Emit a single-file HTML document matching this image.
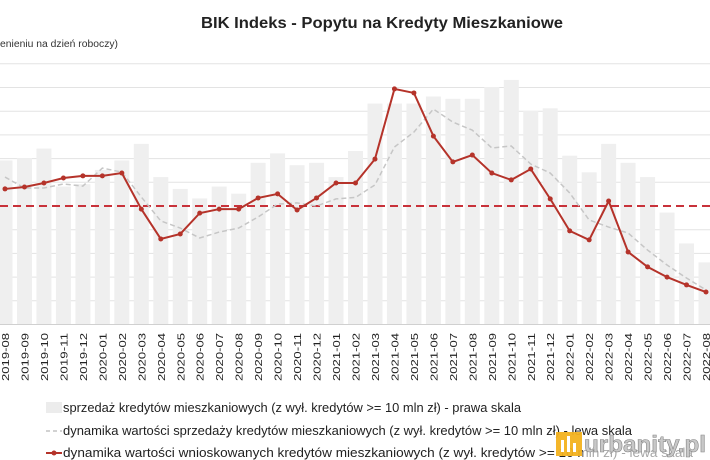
<!DOCTYPE html>
<html><head><meta charset="utf-8"><style>
body{margin:0;background:#fff;}
svg{display:block;font-family:"Liberation Sans",sans-serif;}
</style></head><body>
<svg id="c" width="710" height="460">
<text x="382" y="28" text-anchor="middle" font-size="16" font-weight="bold" fill="#222" textLength="362" lengthAdjust="spacingAndGlyphs">BIK Indeks - Popytu na Kredyty Mieszkaniowe</text>
<text x="0" y="47" font-size="10" fill="#333" textLength="118" lengthAdjust="spacingAndGlyphs">enieniu na dzień roboczy)</text>
<g id="grid"></g>
<g id="bars"></g>
<g id="lines"></g>
<g id="xl"></g>
<g>
<g><rect x="46" y="402" width="16" height="11" fill="#ececec"/><text x="63" y="412" font-size="12.5" fill="#222" textLength="458" lengthAdjust="spacingAndGlyphs">sprzedaż kredytów mieszkaniowych (z wył. kredytów &gt;= 10 mln zł) - prawa skala</text></g>
<g><line x1="46" y1="431" x2="62" y2="431" stroke="#c4c4c4" stroke-width="1.5" stroke-dasharray="4,3"/><text x="63" y="435" font-size="12.5" fill="#222" textLength="569" lengthAdjust="spacingAndGlyphs">dynamika wartości sprzedaży kredytów mieszkaniowych (z wył. kredytów &gt;= 10 mln zł) - lewa skala</text></g>
<g><line x1="46" y1="453" x2="62" y2="453" stroke="#b5332a" stroke-width="2"/><circle cx="54" cy="453" r="2.5" fill="#b5332a"/><text x="63" y="457" font-size="12.5" fill="#222" textLength="630" lengthAdjust="spacingAndGlyphs">dynamika wartości wnioskowanych kredytów mieszkaniowych (z wył. kredytów &gt;= 10 mln zł) - lewa skala</text></g>
</g>
<g>
<rect x="583" y="441" width="124" height="19" fill="#fff" opacity="0.6"/>
<rect x="556" y="432" width="26" height="24" fill="#f3b21f" opacity="0.95"/>
<rect x="561" y="440" width="3" height="12" fill="#fff"/><rect x="567" y="436" width="3" height="16" fill="#fff"/><rect x="573" y="443" width="3" height="9" fill="#fff"/>
<text x="584" y="452" font-size="23" font-weight="bold" fill="#c8c8c8" stroke="#888" stroke-width="0.6" textLength="122" lengthAdjust="spacingAndGlyphs">urbanity.pl</text>
</g>
</svg>
<script>
const categories=["2019-08","2019-09","2019-10","2019-11","2019-12","2020-01","2020-02","2020-03","2020-04","2020-05","2020-06","2020-07","2020-08","2020-09","2020-10","2020-11","2020-12","2021-01","2021-02","2021-03","2021-04","2021-05","2021-06","2021-07","2021-08","2021-09","2021-10","2021-11","2021-12","2022-01","2022-02","2022-03","2022-04","2022-05","2022-06","2022-07","2022-08"];
const salesRight=[6.9,7.0,7.4,5.8,5.9,6.5,6.9,7.6,6.2,5.7,5.3,5.8,5.5,6.8,7.2,6.7,6.8,6.2,7.3,9.3,9.3,9.3,9.6,9.5,9.5,10.0,10.3,9.0,9.1,7.1,6.4,7.6,6.8,6.2,4.7,3.4,2.6];
const salesDynLeft=[1.22,0.76,0.76,0.93,0.84,1.6,1.43,0.38,-0.63,-0.93,-1.35,-1.1,-0.93,-0.46,0.08,0.13,0.0,0.3,0.36,0.89,2.49,3.12,4.09,3.54,3.2,2.45,2.53,1.77,1.39,0.55,-0.59,-0.89,-1.14,-1.86,-2.49,-3.04,-3.54];
const applDynLeft=[0.72,0.8,0.97,1.18,1.27,1.27,1.39,-0.13,-1.39,-1.18,-0.3,-0.13,-0.13,0.34,0.51,-0.17,0.34,0.97,0.97,1.98,4.94,4.77,2.95,1.86,2.15,1.39,1.1,1.56,0.3,-1.05,-1.43,0.21,-1.94,-2.57,-3.0,-3.33,-3.63];
const NS="http://www.w3.org/2000/svg";
const step=23.7;
function x(i){return 5+i*(701/36);}
function yR(v){return 324-v*step;}
function yL(v){return 206-v*step;}
function mk(t,a,p){const e=document.createElementNS(NS,t);for(const k in a)e.setAttribute(k,a[k]);p.appendChild(e);return e;}
const grid=document.getElementById('grid');
for(let k=-5;k<=6;k++){
  const yy=yL(k);
  if(k===0) continue;
  const l=mk('line',{x1:0,x2:710,y1:yy,y2:yy,stroke:k===-5?'#d0d0d0':'#e3e3e3','stroke-width':1},grid);
  
  
}
const bars=document.getElementById('bars');
salesRight.forEach((v,i)=>{
  const r=mk('rect',{x:x(i)-7.5,y:yR(v),width:15,height:324-yR(v),fill:'#efefef'},bars);
  
  
});
const lines=document.getElementById('lines');
const zl=mk('line',{x1:0,x2:710,y1:yL(0),y2:yL(0),stroke:'#c8323a','stroke-width':2,'stroke-dasharray':'8,5'},lines);


const g=mk('polyline',{points:salesDynLeft.map((v,i)=>x(i)+','+yL(v)).join(' '),fill:'none',stroke:'#c6c6c6','stroke-width':1.5,'stroke-dasharray':'5,3'},lines);


const r=mk('polyline',{points:applDynLeft.map((v,i)=>x(i)+','+yL(v)).join(' '),fill:'none',stroke:'#b5332a','stroke-width':2},lines);


applDynLeft.forEach((v,i)=>{
  const c=mk('circle',{cx:x(i),cy:yL(v),r:2.5,fill:'#b5332a'},lines);
  
  
});
const xl=document.getElementById('xl');
categories.forEach((c,i)=>{
  const t=mk('text',{x:0,y:0,transform:'translate('+(x(i)+4)+',381) rotate(-90)','font-size':'10.5',fill:'#222',textLength:'48',lengthAdjust:'spacingAndGlyphs'},xl);
  t.textContent=c;
  
  
});
</script>
</body></html>
